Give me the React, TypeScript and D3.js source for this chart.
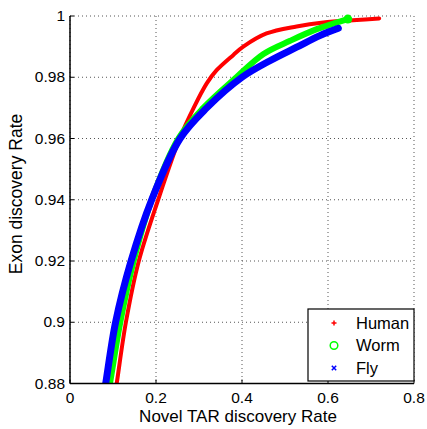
import React from "react";
import * as d3 from "d3";

const xTicks = [0, 0.2, 0.4, 0.6, 0.8];
const yTicks = [0.88, 0.9, 0.92, 0.94, 0.96, 0.98, 1];
const xTickLabels = ["0", "0.2", "0.4", "0.6", "0.8"];
const yTickLabels = ["0.88", "0.9", "0.92", "0.94", "0.96", "0.98", "1"];

const humanX = [0.105, 0.1086, 0.13, 0.16, 0.205, 0.255, 0.2876, 0.318, 0.341, 0.38, 0.403, 0.457, 0.527, 0.589, 0.667, 0.719];
const humanY = [0.877, 0.88, 0.9, 0.92, 0.94, 0.96, 0.97, 0.978, 0.9823, 0.9873, 0.99, 0.9943, 0.9966, 0.9979, 0.9987, 0.9992];

const wormX = [0.089, 0.093, 0.117, 0.148, 0.19, 0.252, 0.31, 0.387, 0.45, 0.512, 0.574, 0.646];
const wormY = [0.877, 0.88, 0.9, 0.92, 0.94, 0.96, 0.97, 0.98, 0.9876, 0.9919, 0.9957, 0.999];

const flyX = [0.079, 0.083, 0.106, 0.142, 0.19, 0.256, 0.318, 0.4, 0.465, 0.527, 0.581, 0.624];
const flyY = [0.877, 0.88, 0.9, 0.92, 0.94, 0.96, 0.97, 0.98, 0.9854, 0.9898, 0.9936, 0.996];

const seriesNames = ["Human", "Worm", "Fly"];
const seriesColors = ["#ff0000", "#00ff00", "#0000ff"];

const W = 427;
const H = 429;
const L = 70, R = 414, T = 16, B = 383.5;

export default function App() {
  const x = d3.scaleLinear().domain([0, 0.8]).range([L, R]);
  const y = d3.scaleLinear().domain([0.88, 1]).range([B, T]);
  const line = d3
    .line<[number, number]>()
    .x((d) => x(d[0]))
    .y((d) => y(d[1]))
    .curve(d3.curveCatmullRom.alpha(0.5));

  const series = [
    { xs: humanX, ys: humanY, w: 4 },
    { xs: wormX, ys: wormY, w: 6 },
    { xs: flyX, ys: flyY, w: 7 },
  ];

  const font = "'Liberation Sans', Arial, Helvetica, sans-serif";

  return (
    <svg width={W} height={H} style={{ position: "absolute", left: 0, top: 0, background: "#fff" }} fontFamily={font}>
      <defs>
        <clipPath id="plotClip">
          <rect x={L} y={T - 6} width={R - L + 10} height={B - T + 6} />
        </clipPath>
      </defs>
      <rect x={0} y={0} width={W} height={H} fill="#fff" />
      {xTicks.map((t, i) => (
        <line key={"gx" + i} x1={x(t)} x2={x(t)} y1={T} y2={B} stroke="#555" strokeWidth={1} strokeDasharray="1,3" />
      ))}
      {yTicks.map((t, i) => (
        <line key={"gy" + i} x1={L} x2={R} y1={y(t)} y2={y(t)} stroke="#555" strokeWidth={1} strokeDasharray="1,3" />
      ))}
      <g clipPath="url(#plotClip)">
        {series.map((s, i) => {
          const pts = s.xs.map((v, j) => [v, s.ys[j]] as [number, number]);
          return (
            <path key={i} d={line(pts) || ""} fill="none" stroke={seriesColors[i]} strokeWidth={s.w} strokeLinecap="round" strokeLinejoin="round" />
          );
        })}
        <circle cx={x(wormX[wormX.length - 1])} cy={y(wormY[wormY.length - 1])} r={4.5} fill={seriesColors[1]} />
      </g>
      <line x1={L} x2={L} y1={T} y2={B} stroke="#000" strokeWidth={1.5} />
      <line x1={L} x2={R} y1={B} y2={B} stroke="#000" strokeWidth={1.5} />
      {xTicks.map((t, i) => (
        <g key={"xt" + i}>
          <line x1={x(t)} x2={x(t)} y1={B} y2={B - 4} stroke="#000" strokeWidth={1} />
          <text x={x(t)} y={403} fontSize={15.5} textAnchor="middle" fill="#000">
            {xTickLabels[i]}
          </text>
        </g>
      ))}
      {yTicks.map((t, i) => (
        <g key={"yt" + i}>
          <line x1={L} x2={L + 4} y1={y(t)} y2={y(t)} stroke="#000" strokeWidth={1} />
          <text x={65} y={y(t) + 5} fontSize={15.5} textAnchor="end" fill="#000">
            {yTickLabels[i]}
          </text>
        </g>
      ))}
      <text x={238} y={422} fontSize={17} textAnchor="middle" fill="#000">
        Novel TAR discovery Rate
      </text>
      <text transform={`translate(22, 194) rotate(-90)`} fontSize={17.5} textAnchor="middle" fill="#000">
        Exon discovery Rate
      </text>
      <rect x={308} y={309} width={106} height={72} fill="#fff" stroke="#000" strokeWidth={1.2} />
      {seriesNames.map((name, i) => {
        const cy = 323 + i * 22.5;
        const mx = 334;
        let marker;
        if (i === 0) {
          marker = (
            <g stroke={seriesColors[0]} strokeWidth={1.5}>
              <line x1={mx - 2.5} x2={mx + 2.5} y1={cy} y2={cy} />
              <line x1={mx} x2={mx} y1={cy - 2.5} y2={cy + 2.5} />
            </g>
          );
        } else if (i === 1) {
          marker = <circle cx={mx} cy={cy} r={3.8} fill="none" stroke={seriesColors[1]} strokeWidth={1.5} />;
        } else {
          marker = (
            <g stroke={seriesColors[2]} strokeWidth={1.5}>
              <line x1={mx - 2.2} x2={mx + 2.2} y1={cy - 2.2} y2={cy + 2.2} />
              <line x1={mx - 2.2} x2={mx + 2.2} y1={cy + 2.2} y2={cy - 2.2} />
            </g>
          );
        }
        return (
          <g key={name}>
            {marker}
            <text x={356} y={cy + 5.5} fontSize={16.5} fill="#000">
              {name}
            </text>
          </g>
        );
      })}
    </svg>
  );
}
